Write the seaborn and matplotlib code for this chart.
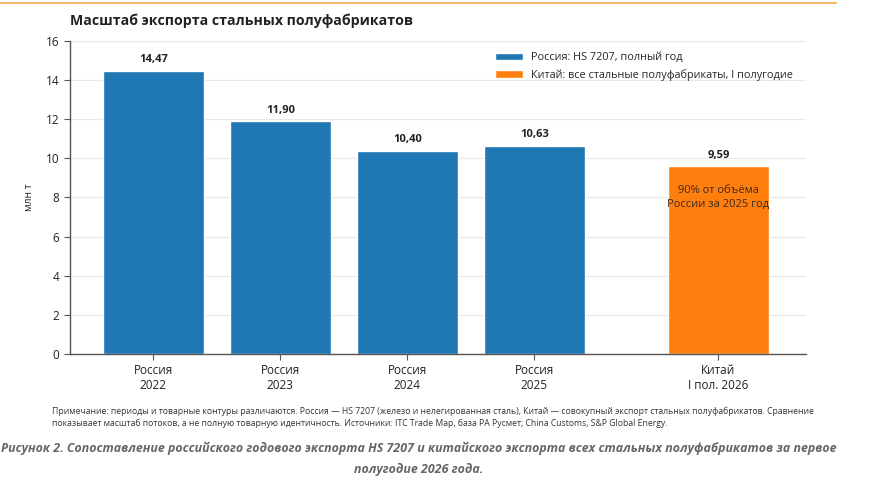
import matplotlib
matplotlib.use('Agg')
import matplotlib.pyplot as plt
import seaborn as sns
import pandas as pd

# data
labels = ['Россия\n2022', 'Россия\n2023', 'Россия\n2024', 'Россия\n2025', 'Китай\nI пол. 2026']
values = [14.47, 11.90, 10.40, 10.63, 9.59]
groups = ['Россия: HS 7207, полный год'] * 4 + ['Китай: все стальные полуфабрикаты, I полугодие']
positions = [0, 1, 2, 3, 4.45]

df = pd.DataFrame({'pos': positions, 'value': values, 'group': groups})

sns.set_style('white')
plt.rcParams['font.family'] = ['Open Sans', 'DejaVu Sans']

fig = plt.figure(figsize=(8.86, 4.90), dpi=100)
ax = fig.add_axes([0.079, 0.2776, 0.8307, 0.6387])

palette = {groups[0]: '#1f77b4', groups[-1]: '#ff7f0e'}
sns.barplot(data=df, x='pos', y='value', hue='group', native_scale=True,
            dodge=False, palette=palette, width=0.8, saturation=1, ax=ax)

ax.set_xlim(-0.657, 5.14)
ax.set_ylim(0, 16)
ax.set_yticks(range(0, 17, 2))
ax.set_xticks(positions, labels)
ax.set_xlabel('')
ax.set_ylabel('млн т', fontsize=7.5, labelpad=8)
ax.grid(axis='y', color='#e8e8e8', linewidth=0.8)
ax.set_axisbelow(True)
for s in ['top', 'right']:
    ax.spines[s].set_visible(False)
for s in ['left', 'bottom']:
    ax.spines[s].set_color('#555555')
    ax.spines[s].set_linewidth(1.0)
ax.tick_params(axis='both', labelsize=8.5, colors='#222222', length=4,
               left=True, bottom=True, color='#555555')

for c in ax.containers:
    ax.bar_label(c, fmt=lambda v: f'{v:.2f}'.replace('.', ','), padding=4,
                 fontsize=8, fontweight='bold', color='#222222')

ax.text(positions[-1], 8.0, '90% от объёма\nРоссии за 2025 год', ha='center',
        va='center', fontsize=8, color='#3a2a1a', linespacing=1.3)

h, l = ax.get_legend_handles_labels()
ax.legend(h, l, loc='upper right', bbox_to_anchor=(0.995, 0.995), frameon=False,
          fontsize=7.8, handlelength=2.6, handleheight=0.7, labelspacing=0.55,
          handletextpad=0.7)

fig.text(0.079, 0.958, 'Масштаб экспорта стальных полуфабрикатов', fontsize=10.2,
         fontweight='bold', color='#222222', va='center')

fig.add_artist(plt.Line2D([0, 0.944], [0.994, 0.994], color='#f5b56e',
                          linewidth=1.5, transform=fig.transFigure))

fig.text(0.059, 0.148,
         'Примечание: периоды и товарные контуры различаются. Россия — HS 7207 (железо и нелегированная сталь), '
         'Китай — совокупный экспорт стальных полуфабрикатов. Сравнение\n'
         'показывает масштаб потоков, а не полную товарную идентичность. Источники: ITC Trade Map, база РА Русмет; '
         'China Customs, S&P Global Energy.',
         fontsize=6.2, color='#333333', va='center', linespacing=1.35)

fig.text(0.473, 0.063,
         'Рисунок 2. Сопоставление российского годового экспорта HS 7207 и китайского экспорта всех стальных '
         'полуфабрикатов за первое\nполугодие 2026 года.',
         fontsize=8.9, fontweight='bold', fontstyle='italic', color='#666666',
         ha='center', va='center', linespacing=1.75)

fig.savefig('out.png', dpi=100)
